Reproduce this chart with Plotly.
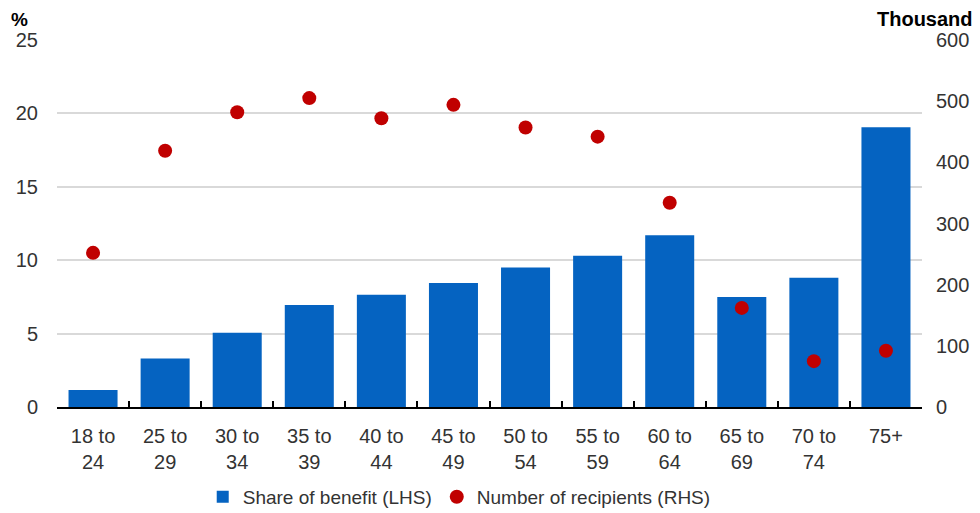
import plotly.graph_objects as go

categories = ["18 to<br>24", "25 to<br>29", "30 to<br>34", "35 to<br>39", "40 to<br>44",
              "45 to<br>49", "50 to<br>54", "55 to<br>59", "60 to<br>64", "65 to<br>69",
              "70 to<br>74", "75+"]
share_of_benefit = [1.15, 3.3, 5.05, 6.95, 7.65, 8.45, 9.5, 10.3, 11.7, 7.5, 8.8, 19.05]
num_recipients = [252, 419, 482, 505, 472, 494, 457, 442, 334, 162, 75, 92]

left_ticks = [0, 5, 10, 15, 20, 25]
right_ticks = [0, 100, 200, 300, 400, 500, 600]

font_family = "Liberation Sans, Arial, sans-serif"

fig = go.Figure()
fig.add_trace(go.Bar(
    x=categories, y=share_of_benefit, name="Share of benefit (LHS)",
    legendgroup="a",
    marker=dict(color="#0563C1", line=dict(width=0)), yaxis="y"))
fig.add_trace(go.Scatter(
    x=categories, y=num_recipients, name="Number of recipients (RHS)",
    legendgroup="b",
    mode="markers", marker=dict(color="#C00000", size=14), yaxis="y2"))

fig.update_layout(
    width=972, height=505,
    margin=dict(l=49, r=58, t=32, b=106, autoexpand=False),
    paper_bgcolor="white", plot_bgcolor="white",
    font=dict(family=font_family, size=20, color="#333333"),
    bargap=0.32,
    showlegend=True,
    legend=dict(orientation="h", x=0.465, xanchor="center", y=-0.245, yanchor="middle",
                font=dict(size=19, color="#333333"), itemwidth=30,
                traceorder="grouped", tracegroupgap=18),
    xaxis=dict(type="category", range=[-0.5, len(categories) - 0.5],
               showline=True, linecolor="black", linewidth=2,
               ticks="inside", tickson="boundaries", ticklen=6, tickwidth=2,
               tickcolor="black", showgrid=False, tickfont=dict(size=20),
               automargin=False, ticklabelstandoff=10),
    yaxis=dict(range=[0, 25], tickvals=left_ticks, showgrid=True, gridcolor="#D9D9D9",
               gridwidth=1.5, zeroline=False, showline=False, ticks="",
               tickfont=dict(size=20), automargin=False, ticklabelstandoff=18),
    yaxis2=dict(range=[0, 600], tickvals=right_ticks, overlaying="y", side="right",
                showgrid=False, zeroline=False, showline=False, ticks="",
                tickfont=dict(size=20), automargin=False, ticklabelstandoff=13),
    annotations=[
        dict(text="<b>%</b>", xref="paper", yref="paper", x=-0.043, y=1.0, xanchor="center",
             yanchor="bottom", yshift=8, showarrow=False, font=dict(size=19, color="black")),
        dict(text="<b>Thousand</b>", xref="paper", yref="paper", x=1.061, y=1.0, xanchor="right",
             yanchor="bottom", yshift=8, showarrow=False, font=dict(size=20, color="black")),
    ],
)

fig.write_html("out.html")
